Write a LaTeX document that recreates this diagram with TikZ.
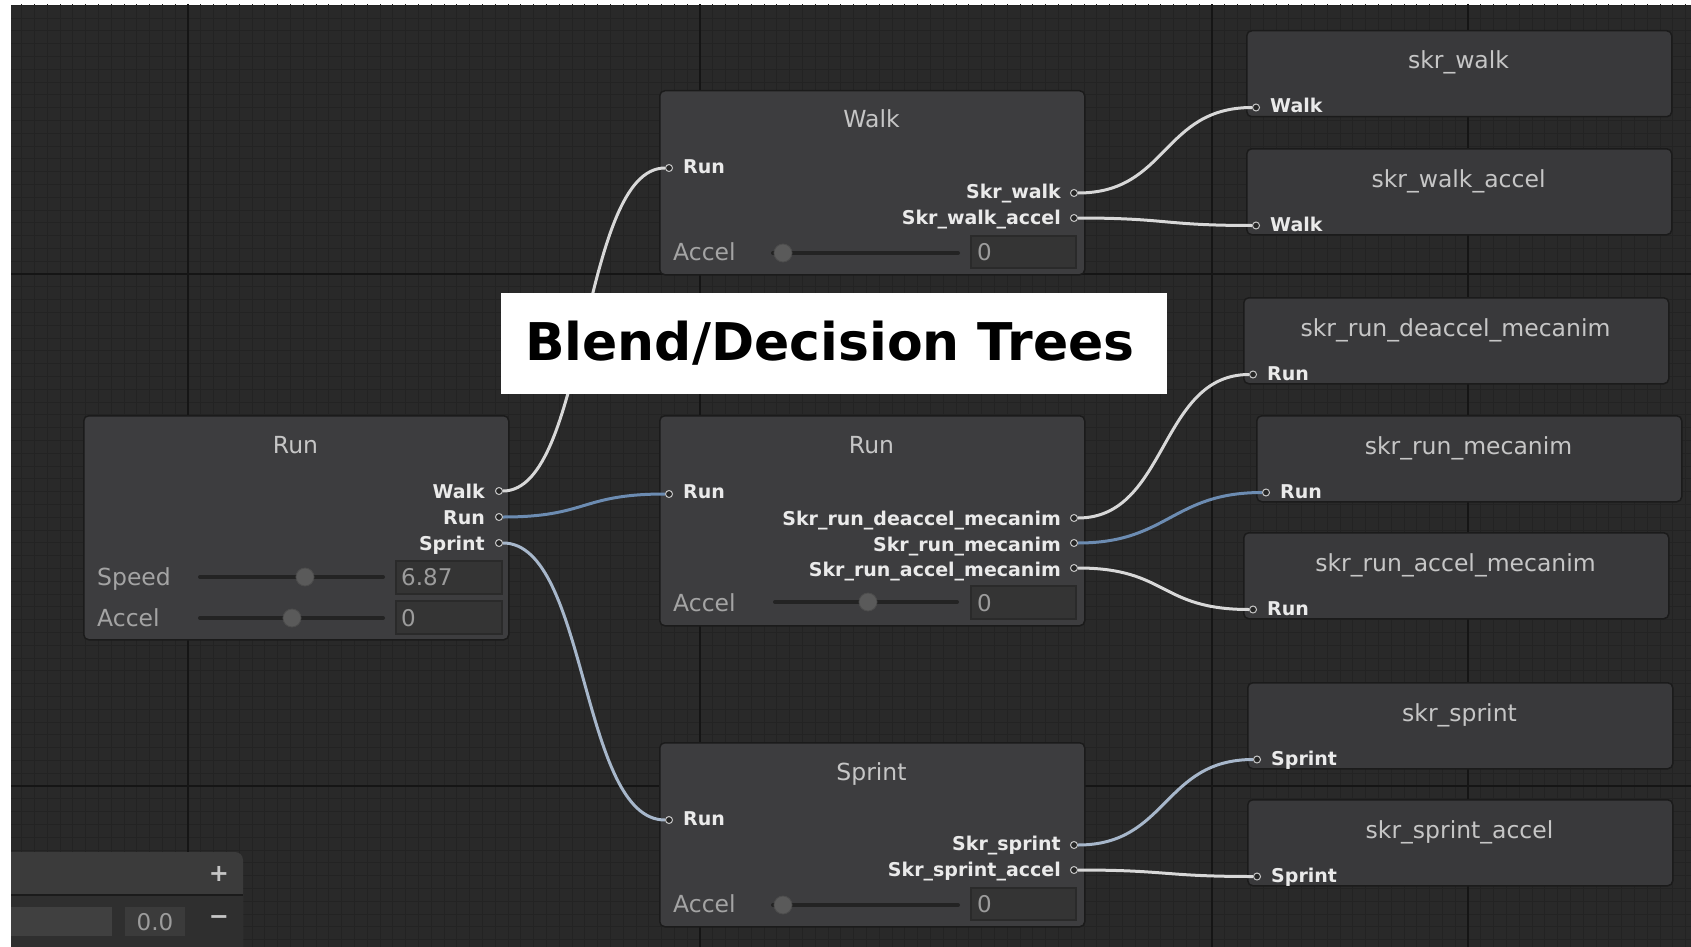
\documentclass[tikz,border=0pt]{standalone}
\usepackage{fontspec}
\setmainfont{DejaVu Sans}

\definecolor{canvas}{HTML}{292929}
\definecolor{gridfine}{HTML}{232323}
\definecolor{gridbold}{HTML}{151515}
\definecolor{blendfill}{HTML}{3D3D3F}
\definecolor{leaffill}{HTML}{39393B}
\definecolor{boxedge}{HTML}{1B1B1B}
\definecolor{titlegray}{HTML}{C6C6C6}
\definecolor{portwhite}{HTML}{EAEAEA}
\definecolor{paramgray}{HTML}{A4A4A4}
\definecolor{valuegray}{HTML}{9C9C9C}
\definecolor{wirewhite}{HTML}{D8D8D8}
\definecolor{wireblue}{HTML}{6C8CB2}
\definecolor{wirepale}{HTML}{A7B7CB}
\definecolor{fieldfill}{HTML}{343434}
\definecolor{fieldedge}{HTML}{2A2A2A}
\definecolor{trackdark}{HTML}{232323}
\definecolor{knobgray}{HTML}{5A5A5A}
\definecolor{headfill}{HTML}{3B3B3B}
\definecolor{lowfill}{HTML}{2F2F2F}
\definecolor{entryfill}{HTML}{404040}

\tikzset{
  blendnode/.style={draw=boxedge, line width=1.5, fill=blendfill, rounded corners=5,
    inner sep=0, anchor=north west, minimum width=425},
  leafnode/.style={draw=boxedge, line width=1.5, fill=leaffill, rounded corners=5,
    inner sep=0, anchor=north west, minimum width=425, minimum height=86},
  nodetitle/.style={text=titlegray, font=\fontsize{23.5}{28}\selectfont, anchor=base, inner sep=0},
  portname/.style={text=portwhite, font=\bfseries\fontsize{19}{23}\selectfont, inner sep=0},
  outname/.style={portname, anchor=base east},
  inname/.style={portname, anchor=base west},
  param/.style={text=paramgray, font=\fontsize{23.5}{28}\selectfont, anchor=base west, inner sep=0},
  value/.style={text=valuegray, font=\fontsize{23}{28}\selectfont, anchor=base west, inner sep=0},
  port/.style={circle, draw=portwhite!85!black, fill=black!85, line width=1, minimum size=7, inner sep=0},
  track/.style={draw=trackdark, line width=4, line cap=round},
  knob/.style={circle, fill=knobgray, draw=black!70, line width=0.8, minimum size=18, inner sep=0},
  field/.style={fill=fieldfill, draw=fieldedge, line width=1.5, anchor=north west, inner sep=0},
  wire/.style={draw=wirewhite, line width=3},
  wireA/.style={draw=wireblue, line width=3},
  wireB/.style={draw=wirepale, line width=3},
  near/.style={out=0, in=180, out distance=85, in distance=85},
  far/.style={out=0, in=180, out distance=90, in distance=90},
}

\begin{document}
\begin{tikzpicture}[x=1pt, y=-1pt]
\useasboundingbox (0,0) rectangle (1691,947);
\fill[white] (0,0) rectangle (1691,947);

\begin{scope}
\clip (11,5) rectangle (1691,947);
\fill[canvas] (11,5) rectangle (1691,947);

% editor grid
\foreach \i in {0,...,132} \draw[gridfine, line width=0.8] ({8.8+\i*12.8},0) -- ({8.8+\i*12.8},947);
\foreach \j in {0,...,74} \draw[gridfine, line width=0.8] (0,{5.2+\j*12.8}) -- (1691,{5.2+\j*12.8});
\foreach \x in {188,700,1212,1468} \draw[gridbold, line width=1.6] (\x,0) -- (\x,947);
\foreach \y in {274,786} \draw[gridbold, line width=1.6] (0,\y) -- (1691,\y);

% parameter panel, bottom left
\fill[headfill, rounded corners=8] (-20,852) rectangle (243,970);
\fill[lowfill] (-20,895) rectangle (243,947);
\draw[boxedge, line width=2] (-20,895) -- (243,895);
\fill[entryfill] (-20,907) rectangle (112,936);
\fill[headfill] (125,907) rectangle (185,936);
\node[text=titlegray, font=\bfseries\fontsize{24}{28}\selectfont, inner sep=0] (addparam) at (219,874) {+};
\node[text=titlegray, font=\bfseries\fontsize{24}{28}\selectfont, inner sep=0] (delparam) at (219,920) {\char"2212};
\node[value, anchor=base] (paramval) at (155,930) {0.0};

% ---------- root blend tree: Run ----------
\node[blendnode, minimum height=224] (runA) at (83,415) {};
\node[nodetitle] (runA-title) at (295.5,453) {Run};
\node[port] (runA-walk) at (499,491) {};
\node[port] (runA-run) at (499,517) {};
\node[port] (runA-sprint) at (499,543) {};
\node[outname] (runA-walk-l) at (485,498) {Walk};
\node[outname] (runA-run-l) at (485,524) {Run};
\node[outname] (runA-sprint-l) at (485,550) {Sprint};
\node[param] (runA-speed) at (97,585) {Speed};
\draw[track] (200,577) -- (383,577);
\node[knob] (runA-speedknob) at (305,577) {};
\node[field, minimum width=106, minimum height=33] (runA-speedfield) at (395,560) {};
\node[value] (runA-speedval) at (401,585) {6.87};
\node[param] (runA-accel) at (97,626) {Accel};
\draw[track] (200,618) -- (383,618);
\node[knob] (runA-accelknob) at (292,618) {};
\node[field, minimum width=106, minimum height=33] (runA-accelfield) at (395,600) {};
\node[value] (runA-accelval) at (401,626) {0};

% ---------- Walk ----------
\node[blendnode, minimum height=184] (walkB) at (659,90) {};
\node[nodetitle] (walkB-title) at (871.5,128) {Walk};
\node[port] (walkB-in) at (669,168) {};
\node[inname] (walkB-in-l) at (683,173) {Run};
\node[port] (walkB-o1) at (1074,193) {};
\node[port] (walkB-o2) at (1074,218) {};
\node[outname] (walkB-o1-l) at (1061,198) {Skr\_walk};
\node[outname] (walkB-o2-l) at (1061,224) {Skr\_walk\_accel};
\node[param] (walkB-accel) at (673,260) {Accel};
\draw[track] (773,253) -- (958,253);
\node[knob] (walkB-knob) at (783,253) {};
\node[field, minimum width=105, minimum height=32] (walkB-field) at (970,235) {};
\node[value] (walkB-val) at (977,260) {0};

% ---------- Run ----------
\node[blendnode, minimum height=210] (runB) at (659,415) {};
\node[nodetitle] (runB-title) at (871.5,453) {Run};
\node[port] (runB-in) at (669,494) {};
\node[inname] (runB-in-l) at (683,498) {Run};
\node[port] (runB-o1) at (1074,518) {};
\node[port] (runB-o2) at (1074,543) {};
\node[port] (runB-o3) at (1074,568) {};
\node[outname] (runB-o1-l) at (1061,525) {Skr\_run\_deaccel\_mecanim};
\node[outname] (runB-o2-l) at (1061,551) {Skr\_run\_mecanim};
\node[outname] (runB-o3-l) at (1061,576) {Skr\_run\_accel\_mecanim};
\node[param] (runB-accel) at (673,611) {Accel};
\draw[track] (775,602) -- (957,602);
\node[knob] (runB-knob) at (868,602) {};
\node[field, minimum width=105, minimum height=33] (runB-field) at (970,585) {};
\node[value] (runB-val) at (977,611) {0};

% ---------- Sprint ----------
\node[blendnode, minimum height=184] (sprintB) at (659,742) {};
\node[nodetitle] (sprintB-title) at (871.5,780) {Sprint};
\node[port] (sprintB-in) at (669,820) {};
\node[inname] (sprintB-in-l) at (683,825) {Run};
\node[port] (sprintB-o1) at (1074,845) {};
\node[port] (sprintB-o2) at (1074,870) {};
\node[outname] (sprintB-o1-l) at (1061,850) {Skr\_sprint};
\node[outname] (sprintB-o2-l) at (1061,876) {Skr\_sprint\_accel};
\node[param] (sprintB-accel) at (673,912) {Accel};
\draw[track] (773,905) -- (958,905);
\node[knob] (sprintB-knob) at (783,905) {};
\node[field, minimum width=105, minimum height=32] (sprintB-field) at (970,887) {};
\node[value] (sprintB-val) at (977,912) {0};

% ---------- motion leaves ----------
\foreach \nm/\lx/\ty/\ttl/\pl in {
    skrWalk/1246/30/skr\_walk/Walk,
    skrWalkAccel/1246/148/skr\_walk\_accel/Walk,
    skrRunDe/1243/297/skr\_run\_deaccel\_mecanim/Run,
    skrRun/1256/415/skr\_run\_mecanim/Run,
    skrRunAcc/1243/532/skr\_run\_accel\_mecanim/Run,
    skrSprint/1247/682/skr\_sprint/Sprint,
    skrSprintAcc/1247/799/skr\_sprint\_accel/Sprint} {
  \node[leafnode] (\nm) at (\lx,\ty) {};
  \node[nodetitle] (\nm-title) at ({\lx+212.5},{\ty+39}) {\ttl};
  \node[port] (\nm-in) at ({\lx+10},{\ty+77.5}) {};
  \node[inname] (\nm-in-l) at ({\lx+24},{\ty+83}) {\pl};
}

% ---------- connections ----------
\draw[wire]  (runA-walk)   to[near] (walkB-in);
\draw[wireA] (runA-run)    to[near] (runB-in);
\draw[wireB] (runA-sprint) to[near] (sprintB-in);
\draw[wire]  (walkB-o1)    to[far]  (skrWalk-in);
\draw[wire]  (walkB-o2)    to[far]  (skrWalkAccel-in);
\draw[wire]  (runB-o1)     to[far]  (skrRunDe-in);
\draw[wireA] (runB-o2)     to[far]  (skrRun-in);
\draw[wire]  (runB-o3)     to[far]  (skrRunAcc-in);
\draw[wireB] (sprintB-o1)  to[far]  (skrSprint-in);
\draw[wire]  (sprintB-o2)  to[far]  (skrSprintAcc-in);

% ---------- caption banner ----------
\node[fill=white, anchor=north west, minimum width=666, minimum height=101, inner sep=0] (banner) at (501,293) {};
\node[anchor=base, inner sep=0, font=\bfseries\fontsize{52}{60}\selectfont] (bannertext) at (830,360) {Blend/Decision Trees};
\end{scope}
\end{tikzpicture}
\end{document}
